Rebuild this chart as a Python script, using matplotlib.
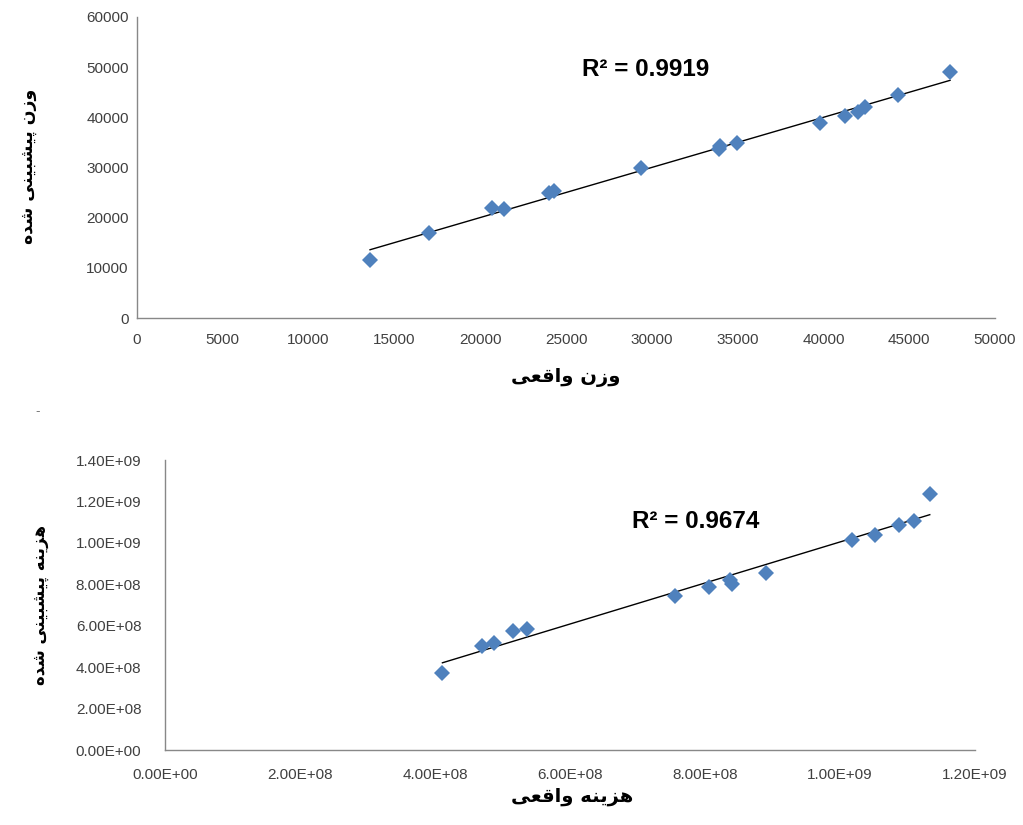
import numpy as np
import matplotlib
matplotlib.use("Agg")
import matplotlib.pyplot as plt
from matplotlib.ticker import FuncFormatter

# --- data ---
weight_actual = [13580, 17020, 20690, 21390, 24000, 24300, 29370, 33900, 34000,
                 34970, 39800, 41260, 42020, 42420, 44350, 47380]
weight_pred = [11600, 16900, 21900, 21700, 24900, 25400, 29900, 33700, 34200,
               34900, 38800, 40300, 41000, 42000, 44400, 49000]
weight_r2 = "0.9919"

cost_actual = [4.11e8, 4.69e8, 4.87e8, 5.16e8, 5.36e8, 7.56e8, 8.06e8, 8.37e8,
               8.40e8, 8.90e8, 1.018e9, 1.052e9, 1.087e9, 1.109e9, 1.133e9]
cost_pred = [3.70e8, 5.02e8, 5.17e8, 5.75e8, 5.85e8, 7.44e8, 7.87e8, 8.21e8,
             8.02e8, 8.55e8, 1.014e9, 1.039e9, 1.087e9, 1.106e9, 1.237e9]
cost_r2 = "0.9674"

weight_xticks = list(range(0, 50001, 5000))
weight_yticks = list(range(0, 60001, 10000))
cost_xticks = [0, 2e8, 4e8, 6e8, 8e8, 1e9, 1.2e9]
cost_yticks = [0, 2e8, 4e8, 6e8, 8e8, 1e9, 1.2e9, 1.4e9]

xlabel_w = "وزن واقعی"
ylabel_w = "وزن پیشبینی شده"
xlabel_c = "هزینه واقعی"
ylabel_c = "هزینه پیشبینی شده"

# matplotlib has no arabic shaping, so pick presentation forms by hand
forms = {
    'ا': ('\uFE8D', '\uFE8E', None, None),
    'ب': ('\uFE8F', '\uFE90', '\uFE91', '\uFE92'),
    'پ': ('\uFB56', '\uFB57', '\uFB58', '\uFB59'),
    'د': ('\uFEA9', '\uFEAA', None, None),
    'ز': ('\uFEAF', '\uFEB0', None, None),
    'ش': ('\uFEB5', '\uFEB6', '\uFEB7', '\uFEB8'),
    'ع': ('\uFEC9', '\uFECA', '\uFECB', '\uFECC'),
    'ق': ('\uFED5', '\uFED6', '\uFED7', '\uFED8'),
    'ن': ('\uFEE5', '\uFEE6', '\uFEE7', '\uFEE8'),
    'ه': ('\uFEE9', '\uFEEA', '\uFEEB', '\uFEEC'),
    'و': ('\uFEED', '\uFEEE', None, None),
    'ی': ('\uFBFC', '\uFBFD', '\uFBFE', '\uFBFF'),
}


def shape(text):
    out = []
    for i, c in enumerate(text):
        if c not in forms:
            out.append(c)
            continue
        prev = text[i - 1] if i > 0 else ''
        nxt = text[i + 1] if i + 1 < len(text) else ''
        jp = prev in forms and forms[prev][2] is not None
        jn = nxt in forms and forms[c][2] is not None
        iso, fin, ini, med = forms[c]
        if jp and jn:
            out.append(med)
        elif jp:
            out.append(fin)
        elif jn:
            out.append(ini)
        else:
            out.append(iso)
    return ''.join(reversed(out))


blue = '#4f81bd'
tick_col = '#404040'
W, H = 1023, 825

fig = plt.figure(figsize=(W / 100, H / 100), dpi=100)


def make_axes(px_left, px_right, px_top, px_bottom):
    return fig.add_axes([px_left / W, 1 - px_bottom / H,
                         (px_right - px_left) / W, (px_bottom - px_top) / H])


def style(ax, xpad, ypad):
    for s in ['top', 'right']:
        ax.spines[s].set_visible(False)
    for s in ['left', 'bottom']:
        ax.spines[s].set_color('#888888')
        ax.spines[s].set_linewidth(1)
    ax.tick_params(axis='x', length=0, pad=xpad, labelsize=11, labelcolor=tick_col)
    ax.tick_params(axis='y', length=0, pad=ypad, labelsize=11, labelcolor=tick_col)
    for lab in ax.get_xticklabels() + ax.get_yticklabels():
        lab.set_family('Liberation Sans')


def draw(ax, xs, ys, r2, r2_pos):
    xs = np.array(xs)
    ys = np.array(ys)
    k, b = np.polyfit(xs, ys, 1)
    xl = np.array([xs.min(), xs.max()])
    ax.plot(xl, k * xl + b, color='black', lw=1, zorder=2)
    ax.plot(xs, ys, 'D', color=blue, markersize=8.5, markeredgewidth=0, zorder=3)
    fig.text(r2_pos[0] / W, 1 - r2_pos[1] / H, "R² = " + r2, fontsize=17.5,
             fontweight='bold', family='Liberation Sans', va='center', ha='left')


# top chart: weight
ax1 = make_axes(137, 995, 17, 318)
ax1.set_xlim(0, 50000)
ax1.set_ylim(0, 60000)
ax1.set_xticks(weight_xticks)
ax1.set_yticks(weight_yticks)
draw(ax1, weight_actual, weight_pred, weight_r2, (582, 70))
style(ax1, 11, 6)

# bottom chart: cost
ax2 = make_axes(165, 975, 460, 750)
ax2.set_xlim(0, 1.2e9)
ax2.set_ylim(0, 1.4e9)
ax2.set_xticks(cost_xticks)
ax2.set_yticks(cost_yticks)
sci = FuncFormatter(lambda v, p: "%.2E" % v)
ax2.xaxis.set_major_formatter(sci)
ax2.yaxis.set_major_formatter(sci)
draw(ax2, cost_actual, cost_pred, cost_r2, (632, 522))
style(ax2, 13, 17)

fa = dict(fontweight='bold', family=['DejaVu Sans'], color='black')
fig.text(566 / W, 1 - 377 / H, shape(xlabel_w), ha='center', va='center', fontsize=14, **fa)
fig.text(28 / W, 1 - 166 / H, shape(ylabel_w), ha='center', va='center', rotation=90,
         fontsize=12.5, **fa)
fig.text(572 / W, 1 - 797 / H, shape(xlabel_c), ha='center', va='center', fontsize=14, **fa)
fig.text(40 / W, 1 - 605 / H, shape(ylabel_c), ha='center', va='center', rotation=90,
         fontsize=12, **fa)
fig.text(38 / W, 1 - 412 / H, "-", ha='center', va='center', fontsize=9, color='#777777')

fig.savefig("out.png", dpi=100)
